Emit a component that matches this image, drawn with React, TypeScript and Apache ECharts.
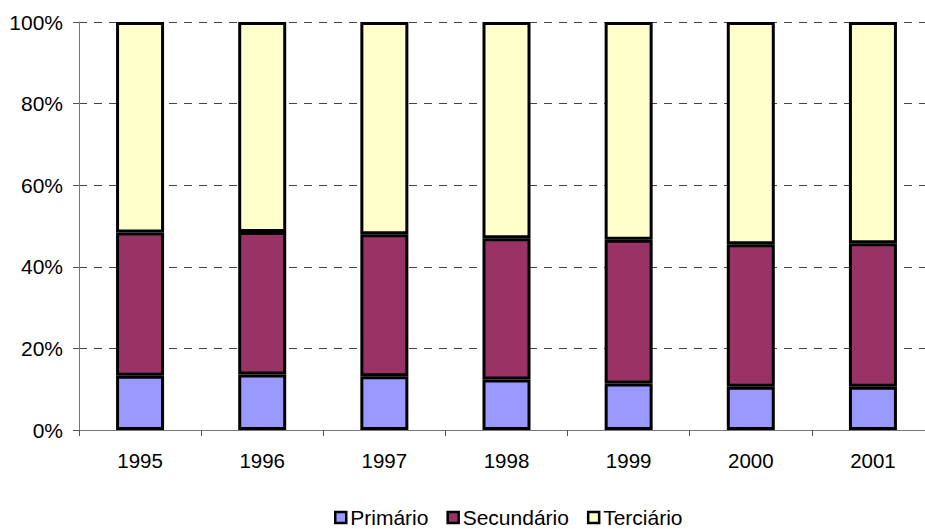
import React, { useEffect, useRef } from "react";
import * as echarts from "echarts";

const years = ["1995", "1996", "1997", "1998", "1999", "2000", "2001"];
const primario = [13.3, 13.6, 13.2, 12.4, 11.4, 10.6, 10.6];
const secundario = [35.1, 34.9, 34.8, 34.6, 35.2, 34.9, 35.2];
const terciario = [51.6, 51.5, 52.0, 53.0, 53.4, 54.5, 54.2];

const FONT = "'Liberation Sans', Arial, sans-serif";

export default function App() {
  const ref = useRef<HTMLDivElement>(null);
  useEffect(() => {
    if (!ref.current) return;
    const chart = echarts.init(ref.current, undefined, { renderer: "svg" });
    const mk = (name: string, data: number[], color: string) => ({
      name,
      type: "bar",
      stack: "total",
      data,
      barWidth: 48,
      itemStyle: { color, borderColor: "#000", borderWidth: 3 },
    });
    chart.setOption({
      animation: false,
      textStyle: { fontFamily: FONT },
      grid: { left: 79, top: 22, width: 855, height: 408, containLabel: false },
      legend: {
        top: 507,
        left: 334,
        padding: 0,
        itemWidth: 11,
        itemHeight: 11,
        itemGap: 18,
        icon: "rect",
        textStyle: {
          fontSize: 21,
          lineHeight: 21,
          color: "#000",
          fontFamily: FONT,
          padding: [0, 0, 0, -1],
        },
        itemStyle: { borderColor: "#000", borderWidth: 2.5 },
        data: ["Primário", "Secundário", "Terciário"],
      },
      xAxis: {
        type: "category",
        data: years,
        axisLine: { lineStyle: { color: "#777", width: 1 } },
        axisTick: { show: true, length: 6, lineStyle: { color: "#555" } },
        axisLabel: { fontSize: 20.5, color: "#000", margin: 20, fontFamily: FONT },
      },
      yAxis: {
        type: "value",
        min: 0,
        max: 100,
        interval: 20,
        axisLine: { show: true, lineStyle: { color: "#777", width: 1 } },
        axisTick: { show: true, inside: false, length: 6, lineStyle: { color: "#555" } },
        axisLabel: {
          fontSize: 21,
          color: "#000",
          margin: 16,
          fontFamily: FONT,
          formatter: (v: number) => v + "%",
        },
        splitLine: {
          show: true,
          lineStyle: { color: "#444", width: 1, type: [8, 7] },
        },
      },
      series: [
        mk("Primário", primario, "#9999ff"),
        mk("Secundário", secundario, "#993366"),
        mk("Terciário", terciario, "#ffffcc"),
      ],
    });
    return () => chart.dispose();
  }, []);
  return (
    <div
      style={{
        position: "fixed",
        left: 0,
        top: 0,
        width: 925,
        height: 529,
        overflow: "hidden",
        background: "#fff",
      }}
    >
      <div ref={ref} style={{ width: 940, height: 529 }} />
    </div>
  );
}
